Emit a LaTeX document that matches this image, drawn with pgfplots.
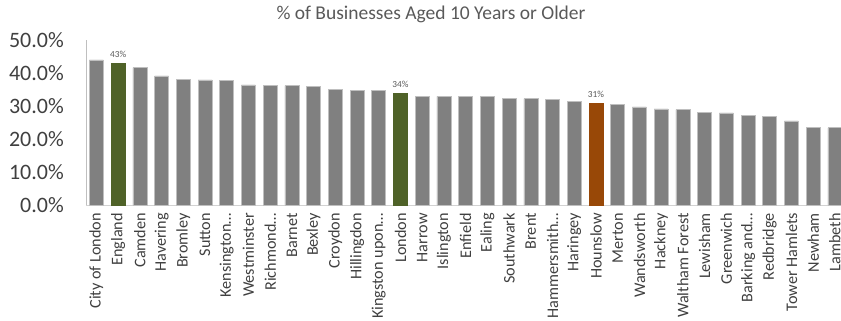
\documentclass[border=0pt]{standalone}
\usepackage{pgfplots}
\pgfplotsset{compat=1.18}
\usepackage{fontspec}
\setmainfont{Carlito}
\definecolor{barg}{HTML}{808080}
\definecolor{bedge}{HTML}{BFBFBF}
\definecolor{green}{HTML}{4F6228}
\definecolor{orng}{HTML}{984807}
\definecolor{txt}{HTML}{595959}
\definecolor{tick}{HTML}{404040}
\begin{document}
\begin{tikzpicture}
\useasboundingbox (-86pt,-116pt) rectangle (755pt,205pt);
\begin{axis}[
  at={(0,0)}, anchor=south west,
  scale only axis, width=755pt, height=165pt,
  xmin=-0.48, xmax=34.28, ymin=0, ymax=50,
  ybar, bar width=14pt, bar shift=0pt,
  axis x line*=bottom, axis y line*=left,
  x axis line style={draw=bedge!70, line width=0.8pt, -},
  y axis line style={draw=bedge, line width=0.8pt, -},
  major tick length=0pt,
  ytick={0,10,20,30,40,50},
  /pgf/number format/assume math mode=true,
  yticklabel={\pgfmathprintnumber[fixed,fixed zerofill,precision=1]{\tick}\%},
  yticklabel style={font=\fontsize{22}{24}\selectfont, text=tick, inner sep=0pt, anchor=east, xshift=-22pt},
  xtick={0,...,34},
  xticklabels={City of London,England,Camden,Havering,Bromley,Sutton,Kensington…,Westminster,Richmond…,Barnet,Bexley,Croydon,Hillingdon,Kingston upon…,London,Harrow,Islington,Enfield,Ealing,Southwark,Brent,Hammersmith…,Haringey,Hounslow,Merton,Wandsworth,Hackney,Waltham Forest,Lewisham,Greenwich,Barking and…,Redbridge,Tower Hamlets,Newham,Lambeth},
  xticklabel style={font=\fontsize{16.2}{18}\selectfont, text=tick, rotate=90, anchor=east, inner sep=0pt},
  xticklabel shift=8pt,
  clip=false,
]
\addplot[fill=barg, draw=bedge, line width=0.6pt] coordinates {
(0,44.0) (2,41.6) (3,39.1) (4,38.0) (5,37.9) (6,37.7) (7,36.4) (8,36.2) (9,36.2)
(10,35.9) (11,35.0) (12,34.8) (13,34.8) (15,32.9) (16,32.9) (17,32.8) (18,32.8)
(19,32.4) (20,32.2) (21,31.9) (22,31.5) (24,30.5) (25,29.7) (26,29.1) (27,28.9)
(28,28.1) (29,27.9) (30,27.1) (31,26.9) (32,25.5) (33,23.5) (34,23.4)
};
\addplot[fill=green, draw=green, line width=0.6pt,
  point meta=explicit symbolic, nodes near coords,
  nodes near coords style={font=\fontsize{9.3}{10}\selectfont, text=txt, inner sep=0pt, anchor=south, yshift=6pt}]
  coordinates {(1,42.9) [43\%] (14,33.7) [34\%]};
\addplot[fill=orng, draw=orng, line width=0.6pt,
  point meta=explicit symbolic, nodes near coords,
  nodes near coords style={font=\fontsize{9.3}{10}\selectfont, text=txt, inner sep=0pt, anchor=south, yshift=6pt}]
  coordinates {(23,30.7) [31\%]};
\end{axis}
\node[font=\fontsize{19.5}{21}\selectfont, text=txt, inner sep=0pt] at (345pt,191pt) {\% of Businesses Aged 10 Years or Older};
\end{tikzpicture}
\end{document}
